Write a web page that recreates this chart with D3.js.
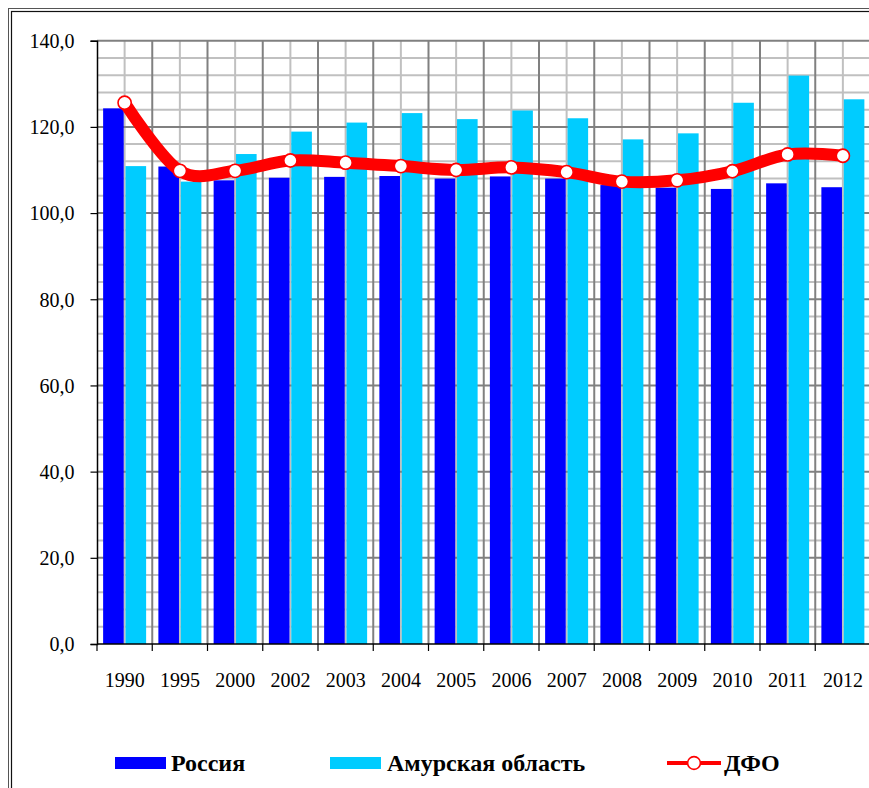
<!DOCTYPE html>
<html>
<head>
<meta charset="utf-8">
<script src="https://cdn.jsdelivr.net/npm/d3@7"></script>
<style>
  html, body { margin: 0; padding: 0; background: #fff; }
  svg { display: block; }
  text { font-family: "Liberation Serif", "Times New Roman", serif; fill: #000; }
</style>
</head>
<body>
<script>
const years = ["1990","1995","2000","2002","2003","2004","2005","2006","2007","2008","2009","2010","2011","2012"];
const russia = [124.3,110.8,107.6,108.2,108.4,108.6,108.0,108.5,108.0,106.5,105.9,105.6,106.9,106.0];
const amur   = [110.9,107.3,113.7,118.9,121.0,123.2,121.8,123.8,122.0,117.1,118.5,125.6,131.9,126.4];
const dfo    = [125.6,109.8,109.8,112.2,111.7,110.9,110.0,110.6,109.5,107.3,107.6,109.7,113.6,113.3];
const yTicks = [0,20,40,60,80,100,120,140];
const seriesNames = ["Россия","Амурская область","ДФО"];

const W = 869, H = 788;
const svg = d3.select("body").append("svg").attr("width", W).attr("height", H);
svg.append("rect").attr("width", W).attr("height", H).attr("fill", "#fff");

// frame (double line)
svg.append("rect").attr("x", 8.5).attr("y", 8.5).attr("width", 1000).attr("height", 1000)
  .attr("fill", "none").attr("stroke", "#555").attr("stroke-width", 1);
svg.append("rect").attr("x", 11.5).attr("y", 11.5).attr("width", 1000).attr("height", 1000)
  .attr("fill", "none").attr("stroke", "#111").attr("stroke-width", 1.2);

const x = d3.scaleBand().domain(years).range([97, 870.5]).padding(0);
const y = d3.scaleLinear().domain([0, 140]).range([644, 40.7]);
const bw = x.bandwidth();

const g = svg.append("g");

// minor horizontal gridlines
const minorY = d3.range(0, 141, 4).filter(v => v % 20 !== 0);
g.selectAll(".hmin").data(minorY).join("line")
  .attr("x1", 97).attr("x2", 872).attr("y1", d => y(d)).attr("y2", d => y(d))
  .attr("stroke", "#c0c0c0").attr("stroke-width", 2);
// minor vertical gridlines at band centers
g.selectAll(".vmin").data(years).join("line")
  .attr("x1", d => x(d) + bw / 2).attr("x2", d => x(d) + bw / 2)
  .attr("y1", y(140)).attr("y2", y(0))
  .attr("stroke", "#c0c0c0").attr("stroke-width", 2);
// major horizontal gridlines
g.selectAll(".hmaj").data(yTicks.filter(v => v > 0)).join("line")
  .attr("x1", 97).attr("x2", 872).attr("y1", d => y(d)).attr("y2", d => y(d))
  .attr("stroke", "#808080").attr("stroke-width", 2);
// major vertical gridlines at band boundaries
g.selectAll(".vmaj").data(years.slice(1)).join("line")
  .attr("x1", d => x(d)).attr("x2", d => x(d))
  .attr("y1", y(140)).attr("y2", y(0))
  .attr("stroke", "#808080").attr("stroke-width", 2);

// bars
const barW = 20.6, gap = 0.9;
g.selectAll(".rus").data(years).join("rect")
  .attr("x", (d) => x(d) + bw / 2 - gap - barW)
  .attr("width", barW)
  .attr("y", (d, i) => y(russia[i]))
  .attr("height", (d, i) => y(0) - y(russia[i]))
  .attr("fill", "#0000FF");
g.selectAll(".amur").data(years).join("rect")
  .attr("x", (d) => x(d) + bw / 2 + gap)
  .attr("width", barW)
  .attr("y", (d, i) => y(amur[i]))
  .attr("height", (d, i) => y(0) - y(amur[i]))
  .attr("fill", "#00CCFF");

// axes
const yAxis = d3.axisLeft(y).tickValues(yTicks).tickSize(6.5).tickPadding(16)
  .tickFormat(d => d3.format(".1f")(d).replace(".", ","));
const ya = svg.append("g").attr("transform", "translate(97,0)").call(yAxis)
  .attr("font-family", null).attr("font-size", null);
ya.select(".domain").attr("stroke", "#000").attr("stroke-width", 1.5);
ya.selectAll(".tick line").attr("stroke", "#000").attr("stroke-width", 1.2);
ya.selectAll("text").style("font-size", "20px").style("font-family", "'Liberation Serif', serif").attr("dy", "0.34em");

const xa = svg.append("g").attr("transform", `translate(0,${y(0)})`);
xa.append("line").attr("x1", 97).attr("x2", 872).attr("y1", 0).attr("y2", 0)
  .attr("stroke", "#000").attr("stroke-width", 1.5);
xa.selectAll(".xt").data(years).join("line")
  .attr("x1", d => x(d)).attr("x2", d => x(d)).attr("y1", 0).attr("y2", 7)
  .attr("stroke", "#000").attr("stroke-width", 1.2);
xa.selectAll(".xl").data(years).join("text")
  .attr("x", d => x(d) + bw / 2).attr("y", 42.5)
  .attr("text-anchor", "middle").style("font-size", "20px").text(d => d);

// DFO line
const line = d3.line()
  .x((d, i) => x(years[i]) + bw / 2)
  .y(d => y(d))
  .curve(d3.curveCatmullRom.alpha(0));
svg.append("path").datum(dfo).attr("d", line)
  .attr("fill", "none").attr("stroke", "#FF0000").attr("stroke-width", 12)
  .attr("stroke-linejoin", "round").attr("stroke-linecap", "round");
svg.selectAll(".mk").data(dfo).join("circle")
  .attr("cx", (d, i) => x(years[i]) + bw / 2).attr("cy", d => y(d))
  .attr("r", 6.6).attr("fill", "#fff").attr("stroke", "#FF0000").attr("stroke-width", 1.6);

// legend
const lg = svg.append("g");
lg.append("rect").attr("x", 115).attr("y", 757).attr("width", 51).attr("height", 12).attr("fill", "#0000FF");
lg.append("text").attr("x", 171).attr("y", 771).style("font-size", "24px").attr("font-weight", "bold").text(seriesNames[0]);
lg.append("rect").attr("x", 330).attr("y", 757).attr("width", 51).attr("height", 12).attr("fill", "#00CCFF");
lg.append("text").attr("x", 387).attr("y", 771).style("font-size", "24px").attr("font-weight", "bold").text(seriesNames[1]);
lg.append("line").attr("x1", 667).attr("x2", 721).attr("y1", 763).attr("y2", 763)
  .attr("stroke", "#FF0000").attr("stroke-width", 4);
lg.append("circle").attr("cx", 694).attr("cy", 763).attr("r", 6.4)
  .attr("fill", "#fff").attr("stroke", "#FF0000").attr("stroke-width", 1.6);
lg.append("text").attr("x", 724).attr("y", 771).style("font-size", "24px").attr("font-weight", "bold").text(seriesNames[2]);
</script>
</body>
</html>
